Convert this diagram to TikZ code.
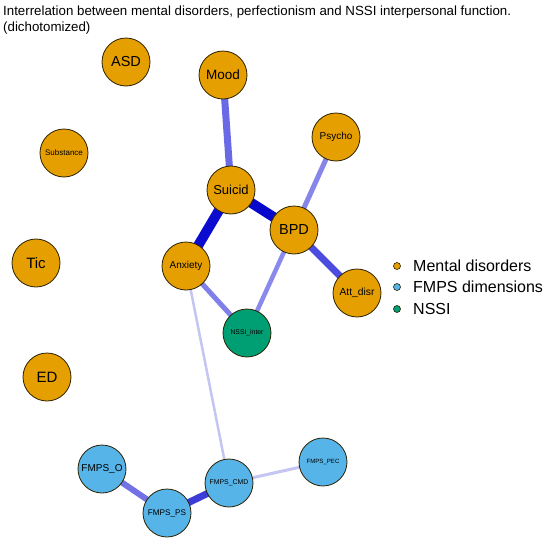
\documentclass[tikz,border=0pt]{standalone}
\usepackage{fontspec}
\setmainfont{Liberation Sans}
\usepackage{xcolor}
\usepackage{tikz}
\usetikzlibrary{backgrounds}

\definecolor{mentalorange}{HTML}{E69F00}
\definecolor{fmpsblue}{HTML}{56B4E9}
\definecolor{nssigreen}{HTML}{009E73}
\definecolor{nodeborder}{HTML}{2B2100}

\begin{document}
\begin{tikzpicture}[x=1pt,y=-1pt,
  vertex/.style={circle,draw=nodeborder,line width=0.8pt,minimum size=48pt,inner sep=0pt,text=black},
  mental/.style={vertex,fill=mentalorange},
  fmps/.style={vertex,fill=fmpsblue},
  nssi/.style={vertex,fill=nssigreen},
  edge/.style={line width=#1}]
\useasboundingbox (0,0) rectangle (550,544);

% title
\node[anchor=west,inner sep=0pt,font=\fontsize{13.3}{15}\selectfont] (title1) at (3,12) {Interrelation between mental disorders, perfectionism and NSSI interpersonal function.};
\node[anchor=west,inner sep=0pt,font=\fontsize{13.3}{15}\selectfont] (title2) at (3,28) {(dichotomized)};

% mental disorders
\node[mental,font=\fontsize{14.5}{16}\selectfont] (ASD) at (126,62) {ASD};
\node[mental,font=\fontsize{13.5}{16}\selectfont] (Mood) at (223,75) {Mood};
\node[mental,font=\fontsize{8}{10}\selectfont] (Substance) at (64,153) {Substance};
\node[mental,font=\fontsize{13}{16}\selectfont] (Suicid) at (231,190) {Suicid};
\node[mental,font=\fontsize{10}{12}\selectfont] (Psycho) at (336,137) {Psycho};
\node[mental,font=\fontsize{14.5}{16}\selectfont] (BPD) at (294,230) {BPD};
\node[mental,font=\fontsize{15}{16}\selectfont] (Tic) at (36,263) {Tic};
\node[mental,font=\fontsize{10}{12}\selectfont] (Anxiety) at (186,266) {Anxiety};
\node[mental,font=\fontsize{10.3}{12}\selectfont] (Attdisr) at (357,293) {Att\_disr};
\node[mental,font=\fontsize{15}{16}\selectfont] (ED) at (47,377) {ED};

% NSSI
\node[nssi,font=\fontsize{6.8}{8}\selectfont] (NSSIinter) at (247,333) {NSSI\_inter};

% FMPS dimensions
\node[fmps,font=\fontsize{10}{12}\selectfont] (FMPSO) at (102,469) {FMPS\_O};
\node[fmps,font=\fontsize{8.2}{10}\selectfont] (FMPSPS) at (167,513) {FMPS\_PS};
\node[fmps,font=\fontsize{6.9}{8}\selectfont] (FMPSCMD) at (229,483) {FMPS\_CMD};
\node[fmps,font=\fontsize{6.1}{8}\selectfont] (FMPSPEC) at (323,462) {FMPS\_PEC};

% edges
\begin{scope}[on background layer]
\draw[edge=7pt,color={rgb,255:red,106;green,106;blue,230}] (Mood.center)--(Suicid.center);
\draw[edge=10pt,color={rgb,255:red,12;green,12;blue,208}] (Suicid.center)--(Anxiety.center);
\draw[edge=10pt,color={rgb,255:red,8;green,8;blue,204}] (Suicid.center)--(BPD.center);
\draw[edge=5pt,color={rgb,255:red,133;green,133;blue,234}] (BPD.center)--(Psycho.center);
\draw[edge=7pt,color={rgb,255:red,76;green,76;blue,224}] (BPD.center)--(Attdisr.center);
\draw[edge=4.5pt,color={rgb,255:red,138;green,138;blue,236}] (BPD.center)--(NSSIinter.center);
\draw[edge=5pt,color={rgb,255:red,128;green,128;blue,232}] (Anxiety.center)--(NSSIinter.center);
\draw[edge=2.5pt,color={rgb,255:red,197;green,197;blue,243}] (Anxiety.center)--(FMPSCMD.center);
\draw[edge=6pt,color={rgb,255:red,114;green,114;blue,228}] (FMPSO.center)--(FMPSPS.center);
\draw[edge=7pt,color={rgb,255:red,60;green,60;blue,216}] (FMPSPS.center)--(FMPSCMD.center);
\draw[edge=3pt,color={rgb,255:red,197;green,197;blue,243}] (FMPSCMD.center)--(FMPSPEC.center);
\end{scope}

% legend
\draw[draw=nodeborder,line width=0.6pt,fill=mentalorange] (397,266) circle (3.5);
\draw[draw=nodeborder,line width=0.6pt,fill=fmpsblue] (397,287) circle (3.5);
\draw[draw=nodeborder,line width=0.6pt,fill=nssigreen] (397,309) circle (3.5);
\node[anchor=west,inner sep=0pt,font=\fontsize{16}{18}\selectfont] (legmental) at (413,266) {Mental disorders};
\node[anchor=west,inner sep=0pt,font=\fontsize{16}{18}\selectfont] (legfmps) at (413,287) {FMPS dimensions};
\node[anchor=west,inner sep=0pt,font=\fontsize{16}{18}\selectfont] (legnssi) at (413,309) {NSSI};
\end{tikzpicture}
\end{document}
